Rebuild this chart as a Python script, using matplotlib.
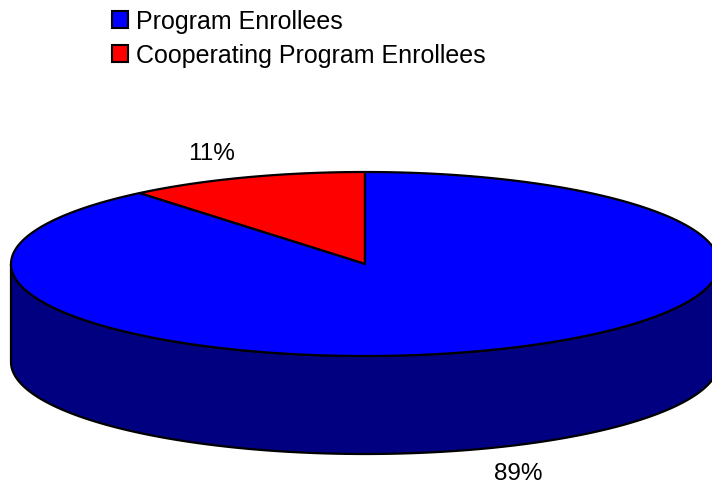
import numpy as np
import matplotlib
matplotlib.use("Agg")
import matplotlib.pyplot as plt
from matplotlib.patches import Polygon, Patch

plt.rcParams["font.family"] = ["Liberation Sans", "DejaVu Sans"]

# Enrollment shares (percent)
labels = ["Program Enrollees", "Cooperating Program Enrollees"]
values = [89, 11]
top_colors = ["#0000FF", "#FF0000"]
side_colors = ["#000080", "#800000"]

W, H = 712, 485
fig = plt.figure(figsize=(W / 100, H / 100), dpi=100)
ax = fig.add_axes([0, 0, 1, 1])
ax.set_xlim(0, W)
ax.set_ylim(H, 0)
ax.axis("off")

# 3-D pie geometry (pixel units)
cx, cy = 365, 265
rx, ry = 354, 92
depth = 98
lw = 1.6


def ell(t, dy=0.0):
    t = np.radians(t)
    return np.column_stack([cx + rx * np.cos(t), cy + dy - ry * np.sin(t)])


# slice angle ranges: the small slice starts at 12 o'clock and runs counter-clockwise
total = float(sum(values))
spans = [v / total * 360.0 for v in values]
start_small = 90.0
ranges = {1: (start_small, start_small + spans[1]),
          0: (start_small + spans[1], start_small + spans[1] + spans[0])}

# front wall (visible between 180 and 360 degrees)
for i, (a0, a1) in ranges.items():
    segs = []
    for off in (0, 360):
        s0, s1 = max(a0, 180 + off), min(a1, 360 + off)
        if s1 > s0:
            segs.append((s0, s1))
    for s0, s1 in segs:
        t = np.linspace(s0, s1, 200)
        top = ell(t)
        bot = ell(t[::-1], depth)
        ax.add_patch(Polygon(np.vstack([top, bot]), closed=True,
                             facecolor=side_colors[i], edgecolor="black",
                             linewidth=lw, joinstyle="round", zorder=1))

# top faces
for i, (a0, a1) in ranges.items():
    t = np.linspace(a0, a1, 400)
    pts = np.vstack([[cx, cy], ell(t)])
    ax.add_patch(Polygon(pts, closed=True, facecolor=top_colors[i],
                         edgecolor="black", linewidth=lw, joinstyle="round",
                         zorder=2))

# percentage labels placed outside each slice's mid-angle
lab_k = 1.28
for i, (a0, a1) in ranges.items():
    m = np.radians((a0 + a1) / 2)
    on_front = np.sin(m) < 0
    y0 = cy + (depth if on_front else 0)
    x = cx + lab_k * rx * np.cos(m)
    y = y0 - lab_k * ry * np.sin(m)
    ax.text(x, y, f"{values[i]}%", ha="center", va="center", fontsize=17.5,
            color="black", zorder=3)

handles = [Patch(facecolor=c, edgecolor="black", linewidth=1.5) for c in top_colors]
fig.legend(handles, labels, loc="upper left",
           bbox_to_anchor=(104 / W, 1 - 3 / H), frameon=False,
           fontsize=18, handlelength=0.66, handleheight=0.66,
           handletextpad=0.3, labelspacing=0.4, borderaxespad=0,
           borderpad=0.3)

fig.savefig("out.png", dpi=100)
